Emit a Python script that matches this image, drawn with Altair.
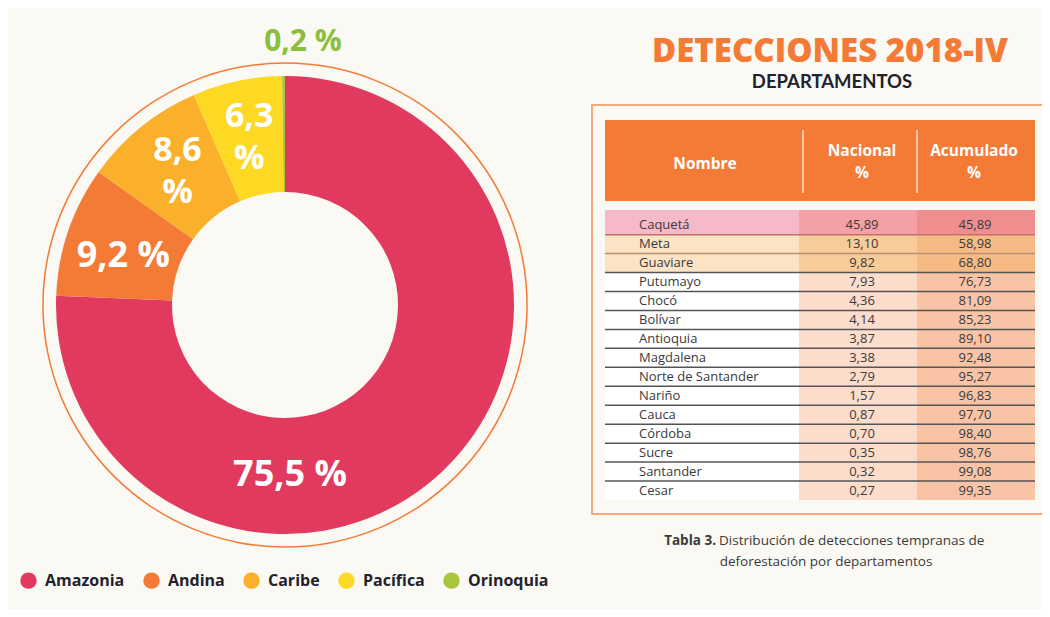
import math
import altair as alt
import pandas as pd

# ---------------- data ----------------
regions = ["Amazonia", "Andina", "Caribe", "Pacífica", "Orinoquia"]
shares = [75.5, 9.2, 8.6, 6.3, 0.2]
region_colors = ["#e23a5f", "#f47b36", "#fbb02b", "#fdd924", "#a9c63b"]

departments = ["Caquetá", "Meta", "Guaviare", "Putumayo", "Chocó", "Bolívar",
               "Antioquia", "Magdalena", "Norte de Santander", "Nariño", "Cauca",
               "Córdoba", "Sucre", "Santander", "Cesar"]
nacional = [45.89, 13.10, 9.82, 7.93, 4.36, 4.14, 3.87, 3.38, 2.79, 1.57,
            0.87, 0.70, 0.35, 0.32, 0.27]
acumulado = [45.89, 58.98, 68.80, 76.73, 81.09, 85.23, 89.10, 92.48, 95.27,
             96.83, 97.70, 98.40, 98.76, 99.08, 99.35]

# ---------------- styles / layout ----------------
BG = "#faf9f4"
ORANGE = "#f47b36"
FONT = "Lato"
FONT2 = "Open Sans"
DARK = "#22222e"
CX, CY = 277, 297

def pct(v, dec):
    return f"{v:.{dec}f}".replace(".", ",")

# donut table
donut_df = pd.DataFrame({"region": regions, "share": shares, "order": list(range(len(regions)))})
donut_df["label1"] = [pct(s, 1) + " %" if r == "Andina" else "" for r, s in zip(regions, shares)]
donut_df["label2"] = [pct(s, 1) + "\n%" if r in ("Caribe", "Pacífica") else ""
                      for r, s in zip(regions, shares)]

one = pd.DataFrame({"k": [0]})

color_scale = alt.Scale(domain=regions, range=region_colors)

ring = alt.Chart(one).mark_arc(
    outerRadius=242.8, innerRadius=241.3, theta=0, theta2=2 * math.pi, color=ORANGE
).encode(x=alt.value(CX), y=alt.value(CY))

arcs = alt.Chart(donut_df).mark_arc(innerRadius=113, outerRadius=229).encode(
    theta=alt.Theta("share:Q", stack=True),
    color=alt.Color(
        "region:N", scale=color_scale,
        legend=alt.Legend(
            orient="none", legendX=12, legendY=564, direction="horizontal",
            title=None, symbolType="circle", symbolSize=270, symbolStrokeWidth=0,
            symbolOpacity=1, labelFont=FONT2, labelFontSize=16, labelFontWeight="bold",
            labelColor=DARK, labelOffset=8, columnPadding=18, padding=0,
        ),
    ),
    order=alt.Order("order:Q"),
    x=alt.value(CX), y=alt.value(CY),
)

lab_style = dict(font=FONT2, fontWeight="bold", color="white",
                 align="center", baseline="middle")
arc_labels1 = alt.Chart(donut_df).mark_text(radius=171, fontSize=36, **lab_style).encode(
    theta=alt.Theta("share:Q", stack=True),
    order=alt.Order("order:Q"),
    text="label1:N",
    x=alt.value(CX), y=alt.value(CY + 6),
)
arc_labels2 = alt.Chart(donut_df).mark_text(
    radius=171, lineBreak="\n", lineHeight=42, fontSize=34, **lab_style
).encode(
    theta=alt.Theta("share:Q", stack=True),
    order=alt.Order("order:Q"),
    text="label2:N",
    x=alt.value(CX), y=alt.value(CY - 21),
)

amaz_label = alt.Chart(one).mark_text(
    text=pct(shares[0], 1) + " %", fontSize=36, **lab_style
).encode(x=alt.value(282), y=alt.value(467))

orin_label = alt.Chart(one).mark_text(
    text=pct(shares[4], 1) + " %", font=FONT2, fontSize=30, fontWeight="bold",
    color="#8dbf3e", align="center", baseline="middle",
).encode(x=alt.value(295), y=alt.value(34))

# ---------------- table ----------------
col_names = ["Nombre", "Nacional", "Acumulado"]
col_x0 = [0, 194, 312]
col_x1 = [194, 312, 430]
fills = {
    "top": ["#f5b9c9", "#f3a1a7", "#f08e8f"],
    "mid": ["#fbe3c4", "#f8cb9b", "#f6ba85"],
    "rest": ["#ffffff", "#fcdccb", "#f9c4a6"],
}
line_col = {"top": "#c4716c", "mid": "#b7916f", "rest": "#555555"}

rows = []
cells = []
for i, d in enumerate(departments):
    grp = "top" if i == 0 else ("mid" if i < 3 else "rest")
    y0 = 0.0 if i == 0 else i + 0.3
    y1 = i + 1.3
    rows.append({"name": d, "nac": pct(nacional[i], 2), "acu": pct(acumulado[i], 2),
                 "y0": y0, "y1": y1, "ty": y1 - 0.5,
                 "line": line_col["rest"] if i == 2 else line_col[grp],
                 "last": i == len(departments) - 1})
    for j in range(3):
        cells.append({"x0": col_x0[j], "x1": col_x1[j], "y0": y0, "y1": y1,
                      "fill": fills[grp][j]})
rows_df = pd.DataFrame(rows)
cells_df = pd.DataFrame(cells)

xs = alt.Scale(domain=[0, 430], range=[597, 1027], nice=False, zero=False)
ys = alt.Scale(domain=[0, 15.3], range=[202, 492], nice=False, zero=False)

box = alt.Chart(one).mark_rect(fill=BG, stroke="#f8a67b", strokeWidth=2).encode(
    x=alt.value(584), x2=alt.value(1038), y=alt.value(97), y2=alt.value(506))

header = alt.Chart(one).mark_rect(fill=ORANGE).encode(
    x=alt.value(597), x2=alt.value(1027), y=alt.value(112), y2=alt.value(193))

sep1 = alt.Chart(one).mark_rule(color="#fde3d3", strokeWidth=1.5).encode(
    x=alt.value(795), y=alt.value(122), y2=alt.value(185))
sep2 = alt.Chart(one).mark_rule(color="#fde3d3", strokeWidth=1.5).encode(
    x=alt.value(909), y=alt.value(122), y2=alt.value(185))

hdr_style = dict(font=FONT2, fontSize=15.5, fontWeight="bold", color="white",
                 align="center", baseline="middle")
h1 = alt.Chart(one).mark_text(text=col_names[0], **hdr_style).encode(
    x=alt.value(697), y=alt.value(156))
h2a = alt.Chart(one).mark_text(text=col_names[1], **hdr_style).encode(
    x=alt.value(854), y=alt.value(143))
h2b = alt.Chart(one).mark_text(text="%", **hdr_style).encode(
    x=alt.value(854), y=alt.value(165))
h3a = alt.Chart(one).mark_text(text=col_names[2], **hdr_style).encode(
    x=alt.value(966), y=alt.value(143))
h3b = alt.Chart(one).mark_text(text="%", **hdr_style).encode(
    x=alt.value(966), y=alt.value(165))

cell_rects = alt.Chart(cells_df).mark_rect().encode(
    x=alt.X("x0:Q", scale=xs, axis=None), x2="x1:Q",
    y=alt.Y("y0:Q", scale=ys, axis=None), y2="y1:Q",
    fill=alt.Fill("fill:N", scale=None),
)

row_lines = alt.Chart(rows_df).transform_filter("!datum.last").mark_rule(strokeWidth=1.5).encode(
    x=alt.value(597), x2=alt.value(1027),
    y=alt.Y("y1:Q", scale=ys, axis=None),
    color=alt.Color("line:N", scale=None),
)

txt_style = dict(font=FONT2, fontSize=13, color="#3a3a3a", baseline="middle")
name_txt = alt.Chart(rows_df).mark_text(align="left", **txt_style).encode(
    x=alt.value(631), y=alt.Y("ty:Q", scale=ys, axis=None), text="name:N")
nac_txt = alt.Chart(rows_df).mark_text(align="center", **txt_style).encode(
    x=alt.value(854), y=alt.Y("ty:Q", scale=ys, axis=None), text="nac:N")
acu_txt = alt.Chart(rows_df).mark_text(align="center", **txt_style).encode(
    x=alt.value(967), y=alt.Y("ty:Q", scale=ys, axis=None), text="acu:N")

# ---------------- titles / caption ----------------
title = alt.Chart(one).mark_text(
    text="DETECCIONES 2018-IV", font=FONT2, fontSize=33, fontWeight=800,
    color=ORANGE, align="center", baseline="middle",
).encode(x=alt.value(822), y=alt.value(44))
subtitle = alt.Chart(one).mark_text(
    text="DEPARTAMENTOS", font=FONT, fontSize=18.5, fontWeight="bold",
    color=DARK, align="center", baseline="middle",
).encode(x=alt.value(824), y=alt.value(74))

cap_style = dict(font=FONT2, fontSize=13.5, color="#3a3a3a", baseline="middle")
cap_b = alt.Chart(one).mark_text(text="Tabla 3.", fontWeight="bold", align="right",
                                  **cap_style).encode(x=alt.value(708), y=alt.value(533))
cap_1 = alt.Chart(one).mark_text(text="Distribución de detecciones tempranas de",
                                  align="left", **cap_style).encode(x=alt.value(711), y=alt.value(533))
cap_2 = alt.Chart(one).mark_text(text="deforestación por departamentos",
                                  align="center", **cap_style).encode(x=alt.value(818), y=alt.value(554))

chart = alt.layer(
    ring, arcs, arc_labels1, arc_labels2, amaz_label, orin_label,
    box, header, sep1, sep2, h1, h2a, h2b, h3a, h3b,
    cell_rects, row_lines, name_txt, nac_txt, acu_txt,
    title, subtitle, cap_b, cap_1, cap_2,
).properties(
    width=1034, height=601,
    autosize=alt.AutoSizeParams(type="none"),
    padding=0,
    background=BG,
).configure_view(stroke=None)

chart.save("out.html", embed_options={"renderer": "svg", "actions": False})
